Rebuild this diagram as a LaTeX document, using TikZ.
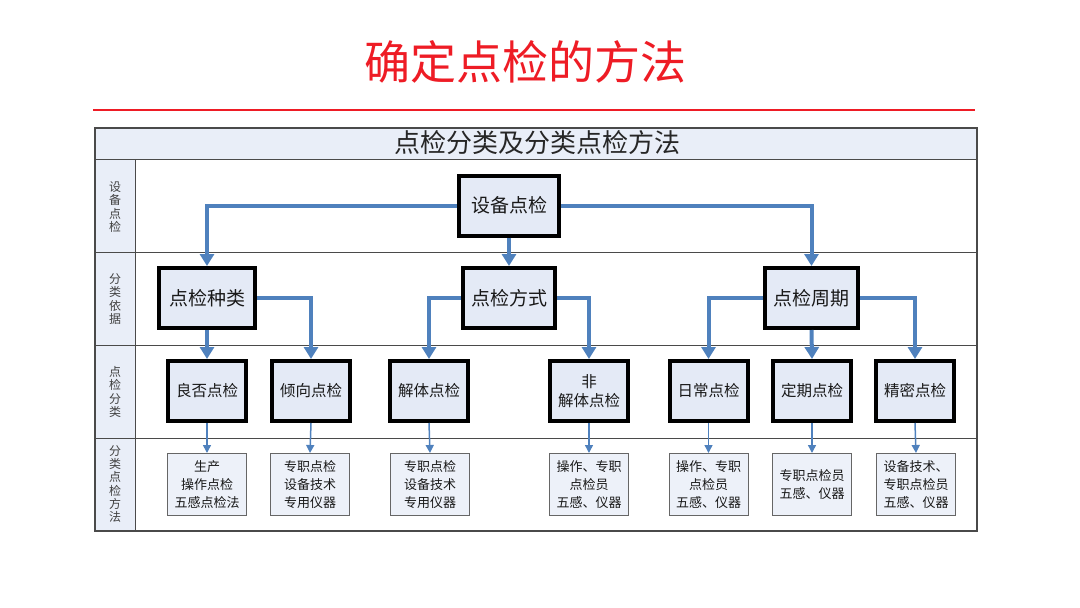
\documentclass[tikz,border=0pt]{standalone}
\usepackage{fontspec}
\setmainfont{Noto Sans CJK SC}
\usetikzlibrary{arrows.meta}
\definecolor{arrowblue}{HTML}{4F81BD}
\definecolor{boxfill}{HTML}{E4EAF6}
\definecolor{smallfill}{HTML}{EDF1F9}
\definecolor{bandfill}{HTML}{E9EEF8}
\definecolor{gridline}{HTML}{4A4A4A}
\definecolor{titlered}{HTML}{EE1C25}
\begin{document}
\begin{tikzpicture}[x=1pt,y=-1pt,
  bigbox/.style={draw=black,line width=4pt,fill=boxfill,minimum width=#1,minimum height=60pt,inner sep=0pt,text=black!90,font=\fontsize{19pt}{22pt}\selectfont},
  midbox/.style={draw=black,line width=4pt,fill=boxfill,minimum width=78pt,minimum height=60pt,inner sep=0pt,align=center,text=black!90,font=\fontsize{15.5pt}{19pt}\selectfont},
  smallbox/.style={draw=black!60,line width=1pt,fill=smallfill,minimum width=79pt,minimum height=62pt,inner sep=0pt,align=center,text=black!90,font=\fontsize{13pt}{18pt}\selectfont},
  lbl/.style={align=center,text=black!75,inner sep=0pt,font=\fontsize{12pt}{13.3pt}\selectfont},
  thickarr/.style={draw=arrowblue,line width=4pt,-{Triangle[width=14pt,length=12pt]}},
  thinarr/.style={draw=arrowblue,line width=1.5pt,-{Triangle[width=8pt,length=8pt]}}
]
\useasboundingbox (0,0) rectangle (1080,608);
% title
\node[font=\fontsize{46pt}{50pt}\selectfont,text=titlered] (title) at (525,62) {确定点检的方法};
\draw[titlered,line width=2pt] (93,110) -- (975,110);
% table
\fill[bandfill] (95,128) rectangle (977,159);
\fill[bandfill] (95,159) rectangle (135,531);
\draw[gridline,line width=1pt] (95,159) -- (977,159);
\draw[gridline,line width=1pt] (135,159) -- (135,531);
\draw[gridline,line width=1pt] (95,252) -- (977,252);
\draw[gridline,line width=1pt] (95,345) -- (977,345);
\draw[gridline,line width=1pt] (95,438) -- (977,438);
\draw[gridline,line width=1.3pt] (95,128) rectangle (977,531);
\node[font=\fontsize{26pt}{28pt}\selectfont,text=black!85] (head) at (537,143) {点检分类及分类点检方法};
% left labels
\node[lbl] (l1) at (115,207) {设\\备\\点\\检};
\node[lbl] (l2) at (115,299) {分\\类\\依\\据};
\node[lbl] (l3) at (115,392) {点\\检\\分\\类};
\node[lbl] (l4) at (115,484) {分\\类\\点\\检\\方\\法};
% level 1
\node[bigbox=100pt] (sb) at (509,205.5) {设备点检};
% level 2
\node[bigbox=96pt] (zl) at (207,298) {点检种类};
\node[bigbox=92pt] (fs) at (509,298) {点检方式};
\node[bigbox=93pt] (zq) at (811.5,298) {点检周期};
% level 3
\node[midbox] (lf) at (207,391) {良否点检};
\node[midbox] (qx) at (311,391) {倾向点检};
\node[midbox] (jt) at (429,391) {解体点检};
\node[midbox] (fjt) at (589,391) {非\\解体点检};
\node[midbox] (rc) at (708.5,391) {日常点检};
\node[midbox] (dq) at (812,391) {定期点检};
\node[midbox] (jm) at (915,391) {精密点检};
% level 4
\node[smallbox] (m1) at (207,484.5) {生产\\操作点检\\五感点检法};
\node[smallbox] (m2) at (310,484.5) {专职点检\\设备技术\\专用仪器};
\node[smallbox] (m3) at (430,484.5) {专职点检\\设备技术\\专用仪器};
\node[smallbox] (m4) at (589,484.5) {操作、专职\\点检员\\五感、仪器};
\node[smallbox] (m5) at (708.5,484.5) {操作、专职\\点检员\\五感、仪器};
\node[smallbox] (m6) at (812,484.5) {专职点检员\\五感、仪器};
\node[smallbox] (m7) at (916,484.5) {设备技术、\\专职点检员\\五感、仪器};
% thick connectors
\draw[thickarr] (sb.west) -| (zl.north);
\draw[thickarr] (sb.south) -- (fs.north);
\draw[thickarr] (sb.east) -| (zq.north);
\draw[thickarr] (zl.south) -- (lf.north);
\draw[thickarr] (zl.east) -| (qx.north);
\draw[thickarr] (fs.west) -| (jt.north);
\draw[thickarr] (fs.east) -| (fjt.north);
\draw[thickarr] (zq.west) -| (rc.north);
\draw[thickarr] (zq.south) -- (dq.north);
\draw[thickarr] (zq.east) -| (jm.north);
% thin connectors
\draw[thinarr] (lf.south) -- (m1.north);
\draw[thinarr] (qx.south) -- (m2.north);
\draw[thinarr] (jt.south) -- (m3.north);
\draw[thinarr] (fjt.south) -- (m4.north);
\draw[thinarr] (rc.south) -- (m5.north);
\draw[thinarr] (dq.south) -- (m6.north);
\draw[thinarr] (jm.south) -- (m7.north);
\end{tikzpicture}
\end{document}
